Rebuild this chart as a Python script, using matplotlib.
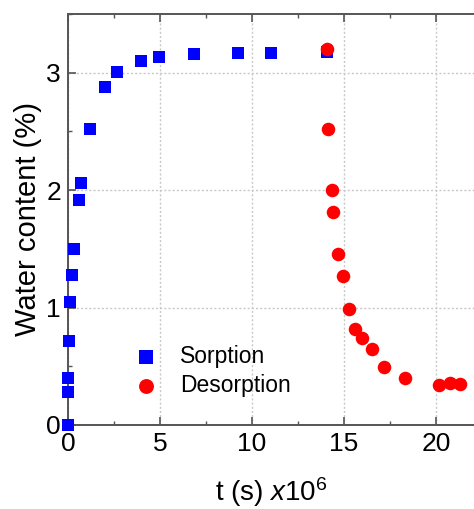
import matplotlib
matplotlib.use("Agg")
import matplotlib.pyplot as plt
from matplotlib.ticker import MultipleLocator

plt.rcParams['font.family'] = ['Liberation Sans', 'DejaVu Sans']
plt.rcParams['mathtext.fontset'] = 'custom'
plt.rcParams['mathtext.rm'] = 'Liberation Sans'
plt.rcParams['mathtext.it'] = 'Liberation Sans:italic'

# Sorption data (t in 1e6 s, water content %)
sorp_t = [0.0, 0.0, 0.02, 0.05, 0.1, 0.2, 0.33, 0.6, 0.7, 1.2, 2.0, 2.67,
          3.97, 4.95, 6.85, 9.24, 11.03, 14.08]
sorp_w = [0.0, 0.40, 0.28, 0.715, 1.045, 1.28, 1.50, 1.92, 2.06, 2.52, 2.88,
          3.01, 3.10, 3.13, 3.16, 3.17, 3.17, 3.18]

# Desorption data
des_t = [14.08, 14.15, 14.33, 14.42, 14.65, 14.95, 15.29, 15.6, 15.98, 16.52,
         17.17, 18.3, 20.18, 20.78, 21.32]
des_w = [3.20, 2.52, 2.00, 1.81, 1.455, 1.265, 0.99, 0.817, 0.743, 0.65,
         0.494, 0.40, 0.34, 0.36, 0.35]

fig = plt.figure(figsize=(4.74, 5.09), dpi=100)
ax = fig.add_axes([68/474, 84/509, (474-68)/474, (425-14)/509])

ax.scatter(sorp_t, sorp_w, marker='s', s=75, color='#0000ff', linewidths=0,
           label='Sorption', zorder=3, clip_on=False)
ax.scatter(des_t, des_w, marker='o', s=95, color='#ff0000', linewidths=0,
           label='Desorption', zorder=4, clip_on=False)

ax.set_xlim(0, 22.07)
ax.set_ylim(0, 3.5)
ax.xaxis.set_major_locator(MultipleLocator(5))
ax.xaxis.set_minor_locator(MultipleLocator(2.5))
ax.yaxis.set_major_locator(MultipleLocator(1))
ax.yaxis.set_minor_locator(MultipleLocator(0.5))

ax.grid(True, which='major', linestyle=(0, (1.5, 1.5)), color='#c8c8c8', linewidth=1.0)
ax.set_axisbelow(True)

for side in ['left', 'bottom', 'top']:
    ax.spines[side].set_color('#555555')
    ax.spines[side].set_linewidth(1.4)
ax.spines['right'].set_visible(False)

ax.tick_params(which='both', direction='in', top=True, right=False,
               colors='#555555', labelcolor='black', labelsize=19)
ax.tick_params(which='major', length=6, width=1.2, pad=5)
ax.tick_params(which='minor', length=3, width=1.0)

ax.set_ylabel('Water content (%)', fontsize=21, labelpad=3)
ax.set_xlabel(r't (s) $\mathit{x10^6}$', fontsize=20, labelpad=14)

leg = ax.legend(loc='lower left', bbox_to_anchor=(0.113, 0.046), frameon=False,
                fontsize=16.5, handletextpad=0.5, labelspacing=0.25,
                borderaxespad=0, markerscale=1.1)

fig.savefig('out.png', dpi=100)
